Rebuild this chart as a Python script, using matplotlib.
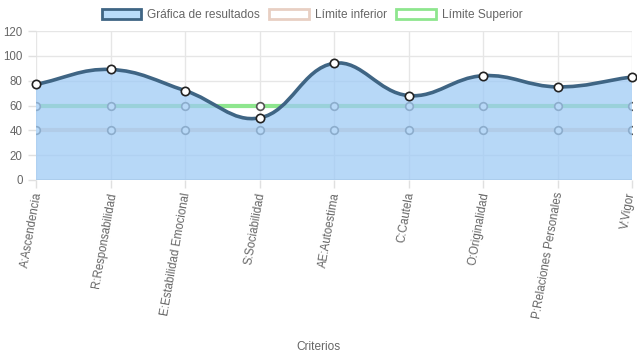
import numpy as np
import matplotlib
matplotlib.use("Agg")
import matplotlib.pyplot as plt
import matplotlib.transforms as mtransforms
from matplotlib.path import Path
from matplotlib.patches import PathPatch, Patch

plt.rcParams['font.family'] = ['Liberation Sans', 'DejaVu Sans']

criterios = ["A:Ascendencia", "R:Responsabilidad", "E:Estabilidad Emocional",
             "S:Sociabilidad", "AE:Autoestima", "C:Cautela", "O:Originalidad",
             "P:Relaciones Personales", "V:Vigor"]
resultados = [77, 89, 72, 50, 94, 68, 84, 75, 83]
limite_inferior = [40] * 9
limite_superior = [60] * 9
y_ticks = [0, 20, 40, 60, 80, 100, 120]

W, H = 637, 359
fig = plt.figure(figsize=(W / 100, H / 100), dpi=100)
left, right, top, bottom = 36, 632, 31, 180
ax = fig.add_axes([left / W, 1 - bottom / H, (right - left) / W, (bottom - top) / H])

x = np.arange(len(criterios))
ax.set_xlim(0, len(criterios) - 1)
ax.set_ylim(0, 120)

# px scale used for chart.js style spline (tension 0.4)
sx = (right - left) / (len(criterios) - 1)
sy = (bottom - top) / 120.0


def spline_path(xs, ys, t=0.4):
    px = np.array(xs, float) * sx
    py = np.array(ys, float) * sy
    n = len(px)
    cp_prev = [None] * n
    cp_next = [None] * n
    for i in range(n):
        prev = (px[max(i - 1, 0)], py[max(i - 1, 0)])
        cur = (px[i], py[i])
        nxt = (px[min(i + 1, n - 1)], py[min(i + 1, n - 1)])
        d01 = np.hypot(cur[0] - prev[0], cur[1] - prev[1])
        d12 = np.hypot(nxt[0] - cur[0], nxt[1] - cur[1])
        tot = d01 + d12 if d01 + d12 > 0 else 1
        fa = t * d01 / tot
        fb = t * d12 / tot
        cp_prev[i] = (cur[0] - fa * (nxt[0] - prev[0]), cur[1] - fa * (nxt[1] - prev[1]))
        cp_next[i] = (cur[0] + fb * (nxt[0] - prev[0]), cur[1] + fb * (nxt[1] - prev[1]))
    verts = [(px[0], py[0])]
    codes = [Path.MOVETO]
    for i in range(n - 1):
        verts += [cp_next[i], cp_prev[i + 1], (px[i + 1], py[i + 1])]
        codes += [Path.CURVE4] * 3
    verts = [(vx / sx, vy / sy) for vx, vy in verts]
    return verts, codes


# grid
for yt in y_ticks:
    ax.axhline(yt, color="#e6e6e6", lw=1, zorder=0)
for xi in x:
    ax.axvline(xi, color="#e6e6e6", lw=1, zorder=0)
ax.axhline(0, color="#d0d0d0", lw=2, zorder=0.5)

# limit lines (drawn beneath the filled area)
ax.plot(x, limite_inferior, color="#e8cfc3", lw=3, zorder=1,
        marker="o", ms=5.5, mfc="white", mec="#555555", mew=1.2)
ax.plot(x, limite_superior, color="#8ee68e", lw=3, zorder=1,
        marker="o", ms=5.5, mfc="white", mec="#555555", mew=1.2)

verts, codes = spline_path(x, resultados)
fill_verts = verts + [(x[-1], 0), (x[0], 0), verts[0]]
fill_codes = codes + [Path.LINETO, Path.LINETO, Path.CLOSEPOLY]
ax.add_patch(PathPatch(Path(fill_verts, fill_codes), facecolor="#9fcbf5", alpha=0.75,
                       edgecolor="none", zorder=2))
ax.add_patch(PathPatch(Path(verts, codes), facecolor="none", edgecolor="#3f6584",
                       lw=2.6, zorder=3))
ax.plot(x, resultados, ls="none", marker="o", ms=6, mfc="white", mec="#222222",
        mew=1.2, zorder=4, clip_on=False)

for s in ax.spines.values():
    s.set_visible(False)

ax.set_yticks(y_ticks)
ax.set_yticklabels([str(v) for v in y_ticks])
ax.set_xticks(x)
ax.set_xticklabels(criterios, rotation=80, ha="right", va="center", rotation_mode="anchor")
ax.tick_params(axis="both", colors="#e0e0e0", labelcolor="#666666", labelsize=8.3,
               length=6, width=1)
ax.tick_params(axis="x", pad=3)
shift = mtransforms.ScaledTranslation(2 / 100, 0, fig.dpi_scale_trans)
back = mtransforms.ScaledTranslation(-1 / 100, 0, fig.dpi_scale_trans)
xlabels = ax.get_xticklabels()
for lbl in xlabels[:-1]:
    lbl.set_transform(lbl.get_transform() + shift)
xlabels[-1].set_transform(xlabels[-1].get_transform() + back)

fig.text(0.5, 1 - 347 / H, "Criterios", ha="center", va="center", color="#666666", fontsize=8.6)

handles = [
    Patch(facecolor="#b9dcfa", edgecolor="#3f6584", lw=2),
    Patch(facecolor="white", edgecolor="#e8cfc3", lw=2),
    Patch(facecolor="white", edgecolor="#8ee68e", lw=2),
]
fig.legend(handles, ["Gráfica de resultados", "Límite inferior", "Límite Superior"],
           loc="center", bbox_to_anchor=(0.49, 1 - 15 / H), ncol=3, frameon=False,
           handlelength=3.3, handleheight=1.0, handletextpad=0.5, columnspacing=0.8,
           fontsize=8.6, labelcolor="#666666")

fig.savefig("out.png", dpi=100)
